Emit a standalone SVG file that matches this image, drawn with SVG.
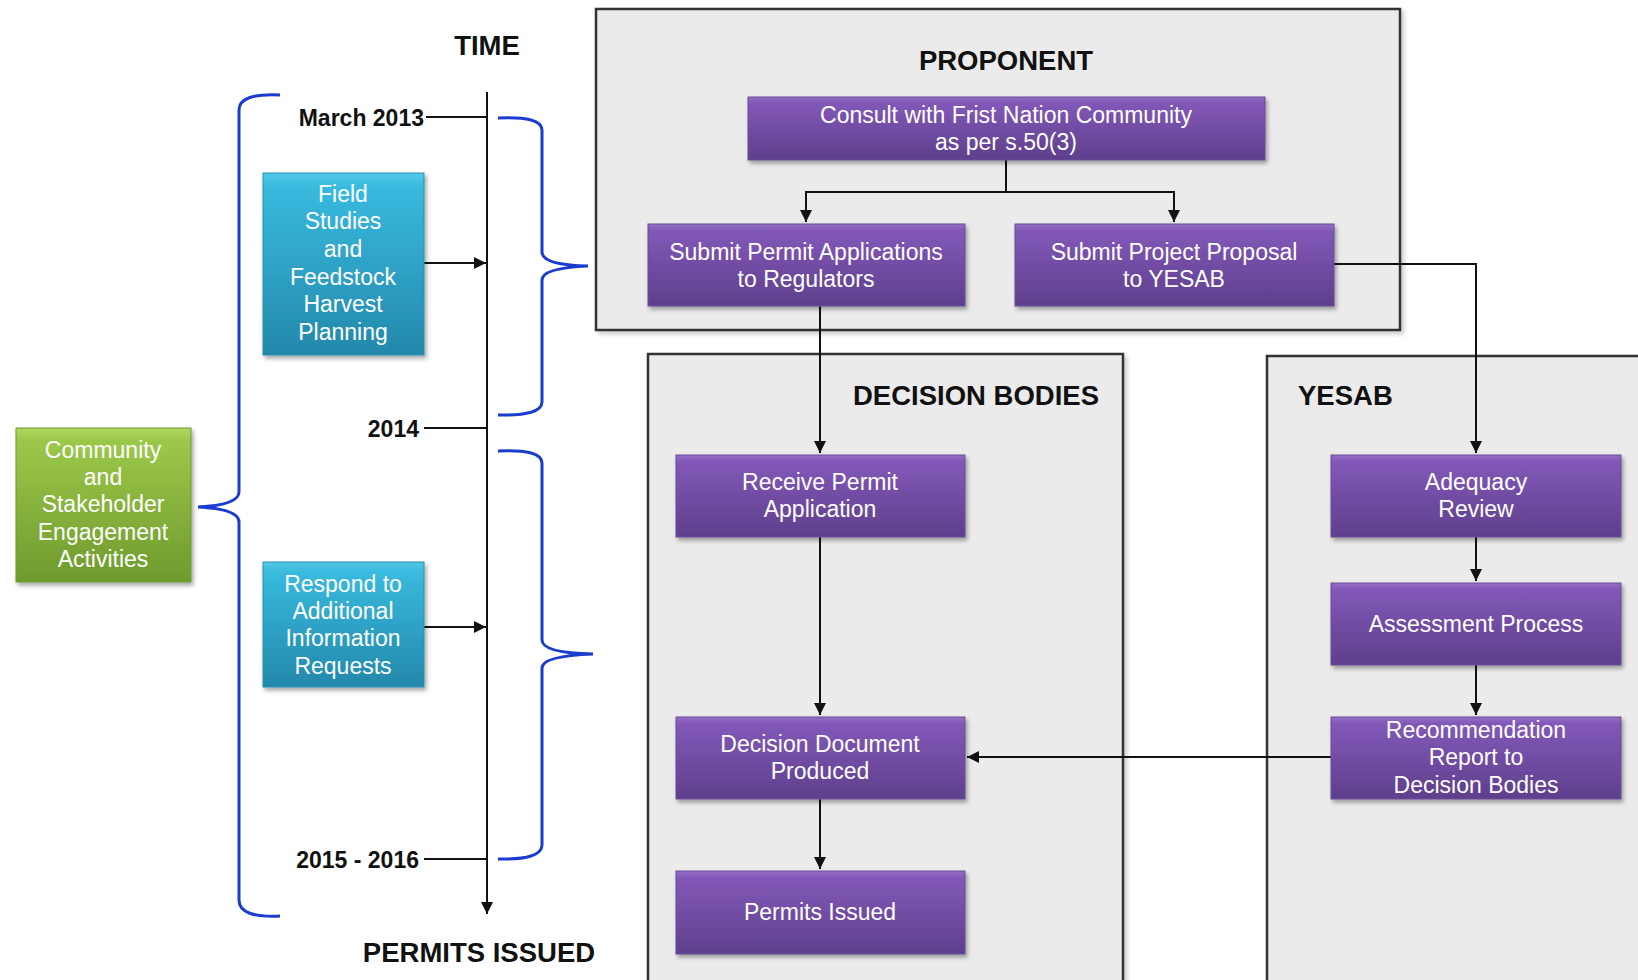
<svg xmlns="http://www.w3.org/2000/svg" width="1638" height="980" viewBox="0 0 1638 980">
<style>
.lbl{font-family:"Liberation Sans",Arial,sans-serif;font-size:23px;fill:#fff;text-anchor:middle}
.hd{font-family:"Liberation Sans",Arial,sans-serif;font-weight:bold;font-size:27.5px;fill:#111}
.tl{font-family:"Liberation Sans",Arial,sans-serif;font-weight:bold;font-size:23px;fill:#111;text-anchor:end}
.ln{stroke:#111;stroke-width:2;fill:none}
.br{stroke:#1a3ccf;stroke-width:3;fill:none}
.panel{fill:#ebebeb;stroke:#333;stroke-width:2.5}
.pu{fill:url(#gp);stroke:#6a4a96;stroke-width:1;filter:url(#sh)}
.tq{fill:url(#gt);stroke:#2a8fb0;stroke-width:1;filter:url(#sh)}
.gr{fill:url(#gg);stroke:#6f9a30;stroke-width:1;filter:url(#sh)}
</style>
<defs>
<linearGradient id="gp" x1="0" y1="0" x2="0" y2="1"><stop offset="0" stop-color="#9470c6"/><stop offset="0.08" stop-color="#8258b8"/><stop offset="1" stop-color="#5e3f8c"/></linearGradient>
<linearGradient id="gt" x1="0" y1="0" x2="0" y2="1"><stop offset="0" stop-color="#52c8e8"/><stop offset="0.08" stop-color="#38bade"/><stop offset="1" stop-color="#2388ab"/></linearGradient>
<linearGradient id="gg" x1="0" y1="0" x2="0" y2="1"><stop offset="0" stop-color="#b0d860"/><stop offset="0.08" stop-color="#9cc84a"/><stop offset="1" stop-color="#6e9a2e"/></linearGradient>
<filter id="sh" x="-10%" y="-10%" width="130%" height="140%"><feDropShadow dx="2" dy="3" stdDeviation="2" flood-color="#000" flood-opacity="0.35"/></filter>
<filter id="psh" x="-5%" y="-5%" width="110%" height="110%"><feDropShadow dx="3" dy="3" stdDeviation="2" flood-color="#000" flood-opacity="0.2"/></filter>
<marker id="ar" viewBox="0 0 10 10" refX="10" refY="5" markerWidth="12" markerHeight="12" markerUnits="userSpaceOnUse" orient="auto"><path d="M0,0 L10,5 L0,10 z" fill="#111"/></marker>
</defs>
<rect width="1638" height="980" fill="#fff"/>

<g id="panels">
<rect class="panel" x="596" y="9" width="804" height="321" filter="url(#psh)"/>
<rect class="panel" x="648" y="354" width="475" height="640" filter="url(#psh)"/>
<rect class="panel" x="1267" y="356" width="390" height="640" filter="url(#psh)"/>
<text class="hd" x="1006" y="70" text-anchor="middle">PROPONENT</text>
<text class="hd" x="1099" y="405" text-anchor="end">DECISION BODIES</text>
<text class="hd" x="1298" y="405">YESAB</text>
</g>

<g id="timeline">
<text class="hd" x="487" y="55" text-anchor="middle">TIME</text>
<text class="hd" x="479" y="962" text-anchor="middle">PERMITS ISSUED</text>
<text class="tl" x="424" y="126">March 2013</text>
<text class="tl" x="419" y="437">2014</text>
<text class="tl" x="419" y="868">2015 - 2016</text>
</g>

<g id="braces">
<path class="br" d="M280,95 Q239,93 239,110 L239,492 Q239,505 198,507 Q239,509 239,522 L239,900 Q239,918 280,916"/>
<path class="br" d="M498,118 Q542,116 542,130 L542,252 Q542,265 588,266 Q542,268 542,280 L542,402 Q542,416 498,415"/>
<path class="br" d="M498,451 Q542,449 542,463 L542,640 Q542,653 593,654 Q542,656 542,668 L542,845 Q542,860 498,859"/>
</g>

<g id="connectors">
<line class="ln" x1="487" y1="92" x2="487" y2="914" marker-end="url(#ar)"/>
<line class="ln" x1="426" y1="117" x2="487" y2="117"/>
<line class="ln" x1="424" y1="428" x2="487" y2="428"/>
<line class="ln" x1="424" y1="859" x2="487" y2="859"/>
<line class="ln" x1="424" y1="263" x2="486" y2="263" marker-end="url(#ar)"/>
<line class="ln" x1="424" y1="627" x2="486" y2="627" marker-end="url(#ar)"/>
<polyline class="ln" points="1006,160 1006,192 806,192 806,222" marker-end="url(#ar)"/>
<polyline class="ln" points="1006,192 1174,192 1174,222" marker-end="url(#ar)"/>
<line class="ln" x1="820" y1="306" x2="820" y2="453" marker-end="url(#ar)"/>
<polyline class="ln" points="1334,264 1476,264 1476,453" marker-end="url(#ar)"/>
<line class="ln" x1="820" y1="537" x2="820" y2="715" marker-end="url(#ar)"/>
<line class="ln" x1="820" y1="799" x2="820" y2="869" marker-end="url(#ar)"/>
<line class="ln" x1="1476" y1="537" x2="1476" y2="581" marker-end="url(#ar)"/>
<line class="ln" x1="1476" y1="665" x2="1476" y2="715" marker-end="url(#ar)"/>
<line class="ln" x1="1331" y1="757" x2="967" y2="757" marker-end="url(#ar)"/>
</g>

<g id="community">
<rect class="gr" x="16" y="428" width="175" height="154"/>
<text class="lbl" x="103" y="458">Community</text>
<text class="lbl" x="103" y="485">and</text>
<text class="lbl" x="103" y="512">Stakeholder</text>
<text class="lbl" x="103" y="540">Engagement</text>
<text class="lbl" x="103" y="567">Activities</text>
</g>

<g id="field">
<rect class="tq" x="263" y="173" width="161" height="182"/>
<text class="lbl" x="343" y="202">Field</text>
<text class="lbl" x="343" y="229">Studies</text>
<text class="lbl" x="343" y="257">and</text>
<text class="lbl" x="343" y="285">Feedstock</text>
<text class="lbl" x="343" y="312">Harvest</text>
<text class="lbl" x="343" y="340">Planning</text>
</g>

<g id="respond">
<rect class="tq" x="263" y="562" width="161" height="125"/>
<text class="lbl" x="343" y="592">Respond to</text>
<text class="lbl" x="343" y="619">Additional</text>
<text class="lbl" x="343" y="646">Information</text>
<text class="lbl" x="343" y="674">Requests</text>
</g>

<g id="consult">
<rect class="pu" x="748" y="97" width="517" height="63"/>
<text class="lbl" x="1006" y="123">Consult with Frist Nation Community</text>
<text class="lbl" x="1006" y="150">as per s.50(3)</text>
</g>

<g id="submit-permit">
<rect class="pu" x="648" y="224" width="317" height="82"/>
<text class="lbl" x="806" y="260">Submit Permit Applications</text>
<text class="lbl" x="806" y="287">to Regulators</text>
</g>

<g id="submit-project">
<rect class="pu" x="1015" y="224" width="319" height="82"/>
<text class="lbl" x="1174" y="260">Submit Project Proposal</text>
<text class="lbl" x="1174" y="287">to YESAB</text>
</g>

<g id="receive">
<rect class="pu" x="676" y="455" width="289" height="82"/>
<text class="lbl" x="820" y="490">Receive Permit</text>
<text class="lbl" x="820" y="517">Application</text>
</g>

<g id="decision">
<rect class="pu" x="676" y="717" width="289" height="82"/>
<text class="lbl" x="820" y="752">Decision Document</text>
<text class="lbl" x="820" y="779">Produced</text>
</g>

<g id="permits">
<rect class="pu" x="676" y="871" width="289" height="83"/>
<text class="lbl" x="820" y="920">Permits Issued</text>
</g>

<g id="adequacy">
<rect class="pu" x="1331" y="455" width="290" height="82"/>
<text class="lbl" x="1476" y="490">Adequacy</text>
<text class="lbl" x="1476" y="517">Review</text>
</g>

<g id="assessment">
<rect class="pu" x="1331" y="583" width="290" height="82"/>
<text class="lbl" x="1476" y="632">Assessment Process</text>
</g>

<g id="recommendation">
<rect class="pu" x="1331" y="717" width="290" height="82"/>
<text class="lbl" x="1476" y="738">Recommendation</text>
<text class="lbl" x="1476" y="765">Report to</text>
<text class="lbl" x="1476" y="793">Decision Bodies</text>
</g>
</svg>
